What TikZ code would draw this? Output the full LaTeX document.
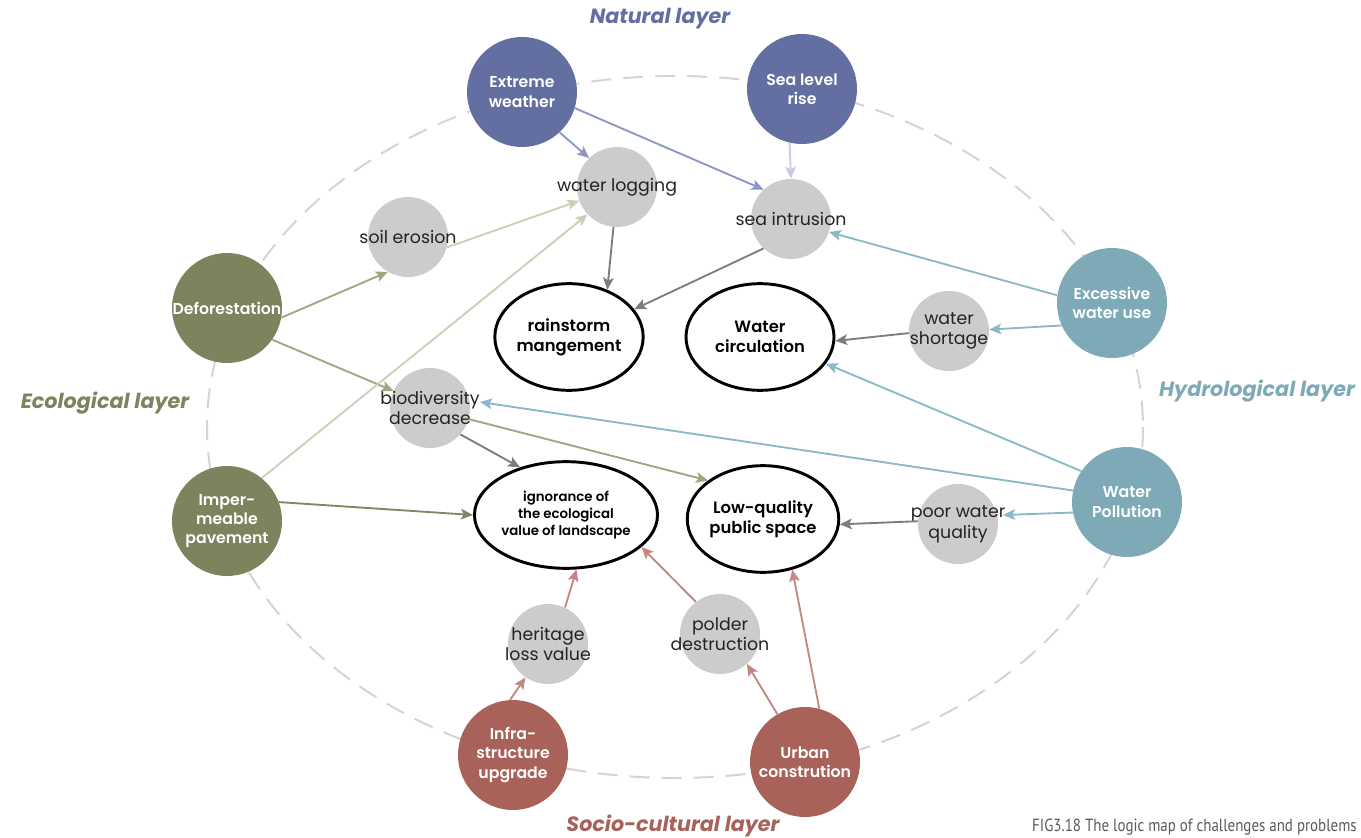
\documentclass[tikz,border=0pt]{standalone}
\usepackage{fontspec}
\setmainfont{Poppins}
\newfontfamily\semifont{Poppins SemiBold}
\newfontfamily\capfont[FakeStretch=0.85]{PT Sans}
\usetikzlibrary{arrows.meta,shapes.geometric,calc}

% layer colours
\definecolor{natC}{RGB}{99,111,160}
\definecolor{ecoC}{RGB}{125,131,92}
\definecolor{hydC}{RGB}{126,170,184}
\definecolor{socC}{RGB}{168,98,90}
\definecolor{probC}{RGB}{204,204,204}
\definecolor{probTxt}{RGB}{35,35,35}
% connector colours
\definecolor{natA}{RGB}{140,150,195}
\definecolor{natL}{RGB}{200,203,228}
\definecolor{ecoA}{RGB}{160,166,128}
\definecolor{ecoP}{RGB}{203,208,182}
\definecolor{ecoD}{RGB}{128,136,95}
\definecolor{hydA}{RGB}{140,185,200}
\definecolor{socA}{RGB}{196,136,130}
\definecolor{grayA}{RGB}{125,125,125}
\definecolor{ringC}{RGB}{212,212,212}
\definecolor{capC}{RGB}{90,90,90}

\tikzset{
  cause/.style={circle, minimum size=82.5pt, inner sep=0pt, text=white,
    align=center, font=\semifont\fontsize{11.8}{14.5}\selectfont},
  problem/.style={circle, fill=probC, minimum size=60pt, inner sep=0pt},
  probtext/.style={inner sep=0pt, text=probTxt, align=center,
    font=\fontsize{13}{15.5}\selectfont},
  issue/.style={ellipse, draw=black, line width=2.2pt, fill=white,
    minimum width=111pt, minimum height=80pt, inner sep=0pt,
    align=center, font=\semifont\fontsize{12.3}{15}\selectfont},
  layerlabel/.style={font=\bfseries\itshape\fontsize{15.5}{18}\selectfont},
  link/.style={line width=1.4pt, -{Stealth[length=9pt,width=8pt,inset=2pt]}},
}

\begin{document}
\begin{tikzpicture}[x=0.75pt,y=-0.75pt]
\useasboundingbox (0,0) rectangle (1361,838);

% dashed ring joining the four layers
\draw[ringC, line width=1.5pt, dash pattern=on 15pt off 9pt]
  (675,427) ellipse [x radius=468, y radius=351];

% natural layer
\node[cause, fill=natC] (ew)  at (522,92)  {Extreme\\weather};
\node[cause, fill=natC] (slr) at (802,89)  {Sea level\\rise};
% ecological layer
\node[cause, fill=ecoC] (def) at (227,308) {Deforestation};
\node[cause, fill=ecoC] (pav) at (227,521) {Imper-\\meable\\pavement};
% hydrological layer
\node[cause, fill=hydC] (ewu) at (1112,303) {Excessive\\water use};
\node[cause, fill=hydC] (wp)  at (1127,502) {Water\\Pollution};
% socio-cultural layer
\node[cause, fill=socC] (inf) at (513,755) {Infra-\\structure\\upgrade};
\node[cause, fill=socC] (urb) at (805,762) {Urban\\constrution};

% intermediate problems (text may run past the disc)
\node[problem, label={[probtext]center:water logging}] (wl) at (617,187) {};
\node[problem, label={[probtext]center:sea intrusion}] (si) at (791,219) {};
\node[problem, label={[probtext]center:soil erosion}] (se) at (408,237) {};
\node[problem, label={[probtext]center:water\\shortage}] (ws) at (949,331) {};
\node[problem, label={[probtext]center:biodiversity\\decrease}] (bd) at (430,408) {};
\node[problem, label={[probtext]center:poor water\\quality}] (pwq) at (958,524) {};
\node[problem, label={[probtext]center:heritage\\loss value}] (hlv) at (548,644) {};
\node[problem, label={[probtext]center:polder\\destruction}] (pd) at (720,634) {};

% core issues
\node[issue] (rs) at (569,337) {rainstorm\\mangement};
\node[issue] (wc) at (760,337) {Water\\circulation};
\node[issue, font=\semifont\fontsize{10}{12.5}\selectfont] (ig) at (566,515)
  {ignorance of\\the ecological\\value of landscape};
\node[issue] (lq) at (763,519) {Low-quality\\public space};

% layer titles and caption
\node[layerlabel, text=natC] (tn) at (660,19)  {Natural layer};
\node[layerlabel, text=ecoC] (te) at (105,403) {Ecological layer};
\node[layerlabel, text=hydC] (th) at (1257,391) {Hydrological layer};
\node[layerlabel, text=socC] (ts) at (673,826) {Socio-cultural layer};
\node[anchor=east, text=capC, inner sep=0pt, font=\capfont\fontsize{13.2}{15}\selectfont]
  (cap) at (1357,827) {FIG3.18 The logic map of challenges and problems};

% natural links
\draw[link, natA] (ew.-47) -- (wl.134);
\draw[link, natA] (ew.-17) -- (si.133);
\draw[link, natL] (slr.-103) -- (si.north);
% ecological links
\draw[link, ecoP] (se.-15) -- (wl.200);
\draw[link, ecoA] (def.-10) -- (se.240);
\draw[link, ecoA] (def.-35) -- (bd.155);
\draw[link, ecoP] (pav.51) -- (wl.223);
\draw[link, ecoD] (pav.20) -- (ig.180);
\draw[link, ecoA] (bd.-16) -- (lq.145);
% hydrological links
\draw[link, hydA] (ewu.172) -- (si.-19);
\draw[link, hydA] (ewu.204) -- (ws.2);
\draw[link, hydA] (wp.146) -- (wc.-22);
\draw[link, hydA] (wp.168) -- ($(bd.center)+(50,-6)$);
\draw[link, hydA] (wp.191) -- ($(pwq.center)+(45,-9)$);
% socio-cultural links
\draw[link, socA] (inf.93) -- (hlv.236);
\draw[link, socA] (hlv.65) -- (ig.-79);
\draw[link, socA] (pd.127) -- (ig.-23);
\draw[link, socA] (urb.120) -- (pd.-48);
\draw[link, socA] (urb.75) -- (lq.-60);
% problems feeding the core issues
\draw[link, grayA] (wl.-95) -- (rs.51);
\draw[link, grayA] (si.-133) -- (rs.23);
\draw[link, grayA] (bd.-41) -- (ig.134);
\draw[link, grayA] (ws.183) -- (wc.-3);
\draw[link, grayA] (pwq.176) -- (lq.-4);
\end{tikzpicture}
\end{document}
